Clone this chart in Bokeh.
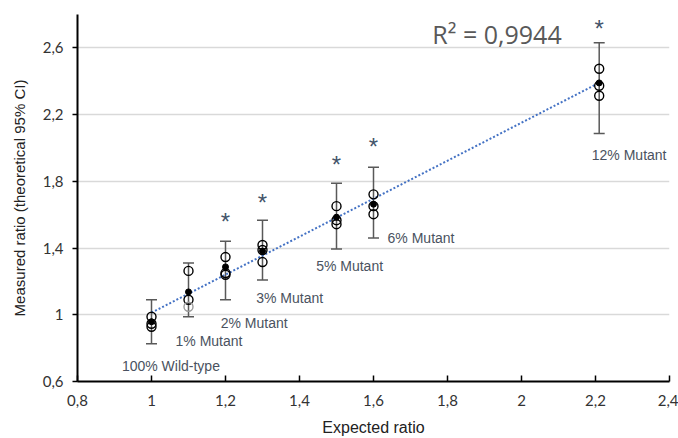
import numpy as np
from bokeh.plotting import figure
from bokeh.models import ColumnDataSource, Whisker, FixedTicker, Range1d, Label
from bokeh.core.properties import value
from bokeh.embed import file_html
from bokeh.resources import INLINE

# ---- data ----
expected = [1.0, 1.1, 1.2, 1.3, 1.5, 1.6, 2.21]
mean_ratio = [0.958, 1.137, 1.287, 1.382, 1.585, 1.663, 2.39]
ci_low = [0.827, 0.988, 1.09, 1.209, 1.394, 1.46, 2.087]
ci_high = [1.09, 1.31, 1.44, 1.567, 1.788, 1.884, 2.63]
rep1 = [0.988, 1.263, 1.346, 1.418, 1.651, 1.722, 2.475]
rep2 = [0.946, 1.09, 1.25, 1.388, 1.567, 1.651, 2.373]
rep3 = [0.928, 1.048, 1.24, 1.316, 1.543, 1.603, 2.313]
rep3_colors = ["black", "#9a9a9a", "black", "black", "black", "black", "black"]
star_x = [1.2, 1.3, 1.5, 1.6, 2.21]
star_y = [1.585, 1.698, 1.925, 2.03, 2.743]
labels = ["100% Wild-type", "1% Mutant", "2% Mutant", "3% Mutant", "5% Mutant", "6% Mutant", "12% Mutant"]
label_x = [0.92, 1.065, 1.187, 1.283, 1.445, 1.638, 2.19]
label_y = [0.69, 0.84, 0.95, 1.1, 1.29, 1.46, 1.955]
x_ticks = [0.8, 1.0, 1.2, 1.4, 1.6, 1.8, 2.0, 2.2, 2.4]
x_tick_labels = ["0,8", "1", "1,2", "1,4", "1,6", "1,8", "2", "2,2", "2,4"]
y_ticks = [0.6, 1.0, 1.4, 1.8, 2.2, 2.6]
y_tick_labels = ["0,6", "1", "1,4", "1,8", "2,2", "2,6"]
r2_text = "R² = 0,9944"

p = figure(width=678, height=438, output_backend="svg", toolbar_location=None,
           x_range=Range1d(0.8, 2.4), y_range=Range1d(0.6, 2.8),
           min_border_left=77, min_border_right=9, min_border_top=14, min_border_bottom=57)
p.outline_line_color = None
p.background_fill_color = "white"

# axes
p.xaxis.ticker = FixedTicker(ticks=x_ticks)
p.xaxis.major_label_overrides = {t: l for t, l in zip(x_ticks, x_tick_labels)}
p.yaxis.ticker = FixedTicker(ticks=y_ticks)
p.yaxis.major_label_overrides = {t: l for t, l in zip(y_ticks, y_tick_labels)}
for ax in (p.xaxis[0], p.yaxis[0]):
    ax.axis_line_color = "black"
    ax.axis_line_width = 2
    ax.major_tick_line_color = "black"
    ax.major_tick_line_width = 1.5
    ax.minor_tick_line_color = None
    ax.major_label_text_font = "Lato"
    ax.major_label_text_font_size = "15px"
    ax.major_label_text_color = "#333333"
    ax.axis_label_text_font = "Liberation Sans"
    ax.axis_label_text_font_style = "normal"
    ax.axis_label_text_color = "#222222"
p.xaxis.major_tick_in = 6
p.xaxis.major_tick_out = 0
p.yaxis.major_tick_in = 0
p.yaxis.major_tick_out = 5
p.xaxis.major_label_standoff = 13
p.yaxis.major_label_standoff = 9
p.xaxis.axis_label = "Expected ratio"
p.yaxis.axis_label = "Measured ratio (theoretical 95% CI)"
p.xaxis.axis_label_text_font_size = "16px"
p.yaxis.axis_label_text_font_size = "15px"
p.xaxis.axis_label_standoff = 10
p.yaxis.axis_label_standoff = 12

p.xgrid.grid_line_color = None
p.ygrid.ticker = FixedTicker(ticks=y_ticks)
p.ygrid.grid_line_color = "#d9d9d9"
p.ygrid.grid_line_width = 1.5

# trend line (least-squares fit of the means)
slope, intercept = np.polyfit(expected, mean_ratio, 1)
fx = np.array([min(expected), max(expected)])
p.line(fx, slope * fx + intercept, line_color="#4472C4", line_width=2, line_dash="2 2")

# error bars
src = ColumnDataSource(dict(x=expected, m=mean_ratio, lo=ci_low, hi=ci_high,
                            r1=rep1, r2=rep2, r3=rep3, c3=rep3_colors))
w = Whisker(source=src, base="x", lower="lo", upper="hi", dimension="height",
            line_color="#595959", line_width=1.5)
w.upper_head.size = 11
w.lower_head.size = 11
w.upper_head.line_color = "#595959"
w.lower_head.line_color = "#595959"
w.upper_head.line_width = 1.5
w.lower_head.line_width = 1.5
p.add_layout(w)

# replicate points (open circles) and means
p.scatter("x", "r1", source=src, size=9, fill_color=None, line_color="black", line_width=1.4)
p.scatter("x", "r2", source=src, size=9, fill_color=None, line_color="black", line_width=1.4)
p.scatter("x", "r3", source=src, size=9, fill_color=None, line_color="c3", line_width=1.4)
p.scatter("x", "m", source=src, size=6, fill_color="black", line_color="black")

# significance stars
p.text(star_x, star_y, text=["*"] * len(star_x), text_align="center", text_baseline="middle",
       text_font=value("Liberation Sans"), text_font_size="24px", text_color="#44546A", y_offset=4)

# group labels
p.text(label_x, label_y, text=labels, text_align="left", text_baseline="middle",
       text_font=value("Liberation Sans"), text_font_size="14px", text_color="#4a5260")

p.add_layout(Label(x=1.759, y=2.684, text=r2_text, text_font="Open Sans", text_font_size="25px",
                   text_color="#595959", text_baseline="middle", text_align="left"))

open("out.html", "w").write(file_html(p, INLINE))
